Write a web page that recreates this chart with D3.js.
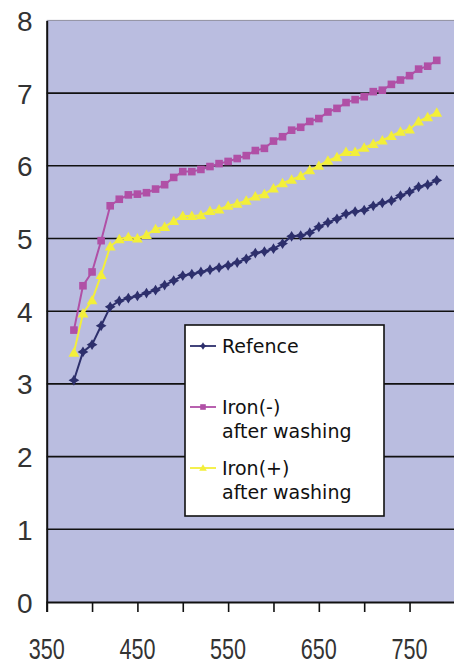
<!DOCTYPE html>
<html>
<head>
<meta charset="utf-8">
<script src="https://cdn.jsdelivr.net/npm/d3@7"></script>
<style>
  html, body { margin: 0; padding: 0; background: #ffffff; }
  svg { display: block; }
</style>
</head>
<body>
<div id="chart"></div>
<script>
// ---- data ----
const wavelengths = [380,390,400,410,420,430,440,450,460,470,480,490,500,510,520,530,540,550,560,570,580,590,600,610,620,630,640,650,660,670,680,690,700,710,720,730,740,750,760,770,780];
const reference = [3.05,3.44,3.54,3.80,4.06,4.14,4.18,4.21,4.25,4.29,4.36,4.42,4.49,4.51,4.54,4.57,4.60,4.63,4.67,4.72,4.80,4.82,4.86,4.93,5.03,5.04,5.08,5.16,5.22,5.27,5.34,5.37,5.39,5.45,5.49,5.52,5.59,5.64,5.71,5.74,5.80];
const ironMinus = [3.74,4.35,4.54,4.97,5.45,5.54,5.60,5.61,5.63,5.68,5.74,5.84,5.92,5.92,5.95,5.99,6.03,6.06,6.10,6.14,6.21,6.24,6.34,6.40,6.49,6.53,6.61,6.65,6.74,6.79,6.87,6.91,6.95,7.02,7.04,7.12,7.18,7.24,7.33,7.37,7.45];
const ironPlus = [3.43,3.97,4.15,4.50,4.89,4.99,5.02,5.00,5.05,5.13,5.16,5.24,5.31,5.31,5.32,5.38,5.40,5.45,5.48,5.52,5.58,5.61,5.69,5.76,5.81,5.86,5.94,6.00,6.07,6.12,6.19,6.19,6.25,6.30,6.35,6.41,6.47,6.50,6.61,6.67,6.73];
const seriesNames = ["Refence", "Iron(-)\nafter washing", "Iron(+)\nafter washing"];
const xTicks = [350,400,450,500,550,600,650,700,750,800];
const xTickLabels = ["350","450","550","650","750"];
const yTicks = [0,1,2,3,4,5,6,7,8];

// ---- layout ----
const W = 454, H = 666;
const svg = d3.select("#chart").append("svg").attr("width", W).attr("height", H);

const x = d3.scaleLinear().domain([350, 800]).range([46.7, 454.9]);
const y = d3.scaleLinear().domain([0, 8]).range([602, 20.4]);

const colors = ["#2d2f6c", "#b050a6", "#f3ef3a"];
const shapes = ["diamond", "square", "triangle"];
const series = [reference, ironMinus, ironPlus];

// plot area
svg.append("rect")
  .attr("x", x(350)).attr("y", y(8))
  .attr("width", x(800) - x(350)).attr("height", y(0) - y(8))
  .attr("fill", "#babde0");

// top border
svg.append("line")
  .attr("x1", x(350)).attr("x2", x(800))
  .attr("y1", y(8)).attr("y2", y(8))
  .attr("stroke", "#8f8f9f").attr("stroke-width", 1);

// gridlines
svg.append("g").selectAll("line").data(yTicks.filter(d => d > 0 && d < 8)).join("line")
  .attr("x1", x(350)).attr("x2", x(800))
  .attr("y1", d => y(d)).attr("y2", d => y(d))
  .attr("stroke", "#111111").attr("stroke-width", 1.6);

// y axis
const yAxis = d3.axisLeft(y).tickValues(yTicks).tickSize(0).tickPadding(14).tickFormat(d3.format("d"));
const gy = svg.append("g").attr("transform", `translate(${x(350)},0)`).call(yAxis);
gy.select(".domain").attr("stroke", "#111").attr("stroke-width", 2);
gy.selectAll("text")
  .attr("font-family", "'Liberation Sans', Arial, sans-serif")
  .attr("font-size", 28).attr("font-weight", 300).attr("fill", "#333").attr("dy", "0.36em");

// x axis
const xAxis = d3.axisBottom(x).tickValues(xTicks).tickSize(10).tickFormat("");
const gx = svg.append("g").attr("transform", `translate(0,${y(0)})`).call(xAxis);
gx.select(".domain").attr("stroke", "#111").attr("stroke-width", 2);
gx.selectAll(".tick line").attr("stroke", "#111").attr("stroke-width", 1.6);

svg.append("g").selectAll("text").data(xTickLabels).join("text")
  .attr("x", d => x(+d) - 18).attr("y", 659)
  .attr("textLength", 36).attr("lengthAdjust", "spacingAndGlyphs")
  .attr("font-family", "'Liberation Sans', Arial, sans-serif")
  .attr("font-size", 29).attr("fill", "#333")
  .text(d => d);

// markers
function drawMarker(g, shape, cx, cy, s, color) {
  if (shape === "diamond") {
    g.append("path")
      .attr("d", `M${cx},${cy - s}L${cx + s * 0.38},${cy - s * 0.38}L${cx + s},${cy}L${cx + s * 0.38},${cy + s * 0.38}L${cx},${cy + s}L${cx - s * 0.38},${cy + s * 0.38}L${cx - s},${cy}L${cx - s * 0.38},${cy - s * 0.38}Z`)
      .attr("fill", color);
  } else if (shape === "square") {
    g.append("rect").attr("x", cx - s).attr("y", cy - s)
      .attr("width", s * 2).attr("height", s * 2).attr("fill", color);
  } else {
    g.append("path")
      .attr("d", `M${cx},${cy - s}L${cx + s},${cy + s * 0.75}L${cx - s},${cy + s * 0.75}Z`)
      .attr("fill", color);
  }
}

const markerSize = [5.4, 3.8, 5.4];
const line = d3.line().x((d, i) => x(wavelengths[i])).y(d => y(d));
series.forEach((vals, k) => {
  const g = svg.append("g");
  g.append("path").datum(vals).attr("d", line)
    .attr("fill", "none").attr("stroke", colors[k]).attr("stroke-width", 2);
  vals.forEach((v, i) => drawMarker(g, shapes[k], x(wavelengths[i]), y(v), markerSize[k], colors[k]));
});

// legend
const lg = svg.append("g");
lg.append("rect").attr("x", 185).attr("y", 325).attr("width", 199).attr("height", 191)
  .attr("fill", "#ffffff").attr("stroke", "#111").attr("stroke-width", 1.6);
const legendY = [346, 407, 468];
seriesNames.forEach((name, k) => {
  const ly = legendY[k];
  lg.append("line").attr("x1", 190).attr("x2", 216).attr("y1", ly).attr("y2", ly)
    .attr("stroke", colors[k]).attr("stroke-width", 1.8);
  drawMarker(lg, shapes[k], 203, ly, k === 1 ? 2.8 : 3.8, colors[k]);
  const t = lg.append("text")
    .attr("x", 222).attr("y", ly + 7)
    .attr("font-family", "'DejaVu Sans', sans-serif")
    .attr("font-size", 19).attr("fill", "#111");
  name.split("\n").forEach((part, j) => {
    t.append("tspan").attr("x", 222).attr("dy", j === 0 ? 0 : 24).text(part);
  });
});
</script>
</body>
</html>
